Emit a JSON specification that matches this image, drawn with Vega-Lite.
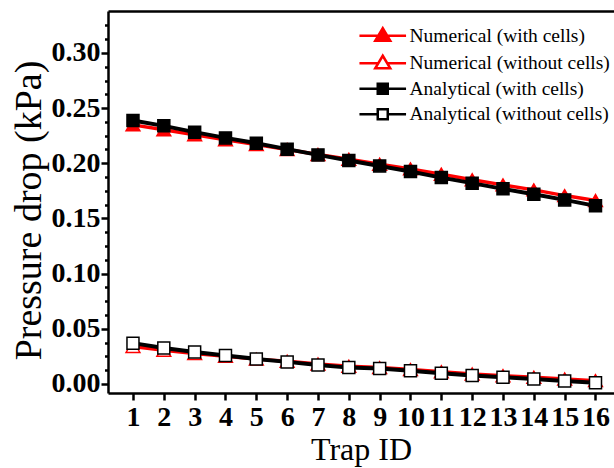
{
  "$schema": "https://vega.github.io/schema/vega-lite/v6.json",
  "autosize": {"type": "none"},
  "padding": {"left": 108, "top": 11, "right": 0, "bottom": 75},
  "width": 506,
  "height": 382,
  "background": "white",
  "config": {
    "view": {"stroke": null},
    "font": "Times New Roman, Liberation Serif, serif",
    "axis": {
      "domainColor": "black", "domainWidth": 2.5, "tickColor": "black", "tickWidth": 2.5,
      "labelColor": "black", "titleColor": "black", "grid": false,
      "labelFont": "Times New Roman, Liberation Serif, serif", "titleFont": "Times New Roman, Liberation Serif, serif"
    }
  },
  "data": {
    "values": [
      {"trap": 1, "series": "Numerical (with cells)", "dp": 0.2348},
      {"trap": 2, "series": "Numerical (with cells)", "dp": 0.2303},
      {"trap": 3, "series": "Numerical (with cells)", "dp": 0.2259},
      {"trap": 4, "series": "Numerical (with cells)", "dp": 0.2214},
      {"trap": 5, "series": "Numerical (with cells)", "dp": 0.2169},
      {"trap": 6, "series": "Numerical (with cells)", "dp": 0.2125},
      {"trap": 7, "series": "Numerical (with cells)", "dp": 0.2080},
      {"trap": 8, "series": "Numerical (with cells)", "dp": 0.2036},
      {"trap": 9, "series": "Numerical (with cells)", "dp": 0.1991},
      {"trap": 10, "series": "Numerical (with cells)", "dp": 0.1949},
      {"trap": 11, "series": "Numerical (with cells)", "dp": 0.1901},
      {"trap": 12, "series": "Numerical (with cells)", "dp": 0.1850},
      {"trap": 13, "series": "Numerical (with cells)", "dp": 0.1804},
      {"trap": 14, "series": "Numerical (with cells)", "dp": 0.1759},
      {"trap": 15, "series": "Numerical (with cells)", "dp": 0.1707},
      {"trap": 16, "series": "Numerical (with cells)", "dp": 0.1662},
      {"trap": 1, "series": "Numerical (without cells)", "dp": 0.0340},
      {"trap": 2, "series": "Numerical (without cells)", "dp": 0.0305},
      {"trap": 3, "series": "Numerical (without cells)", "dp": 0.0275},
      {"trap": 4, "series": "Numerical (without cells)", "dp": 0.0250},
      {"trap": 5, "series": "Numerical (without cells)", "dp": 0.0225},
      {"trap": 6, "series": "Numerical (without cells)", "dp": 0.0205},
      {"trap": 7, "series": "Numerical (without cells)", "dp": 0.0180},
      {"trap": 8, "series": "Numerical (without cells)", "dp": 0.0160},
      {"trap": 9, "series": "Numerical (without cells)", "dp": 0.0148},
      {"trap": 10, "series": "Numerical (without cells)", "dp": 0.0130},
      {"trap": 11, "series": "Numerical (without cells)", "dp": 0.0110},
      {"trap": 12, "series": "Numerical (without cells)", "dp": 0.0090},
      {"trap": 13, "series": "Numerical (without cells)", "dp": 0.0075},
      {"trap": 14, "series": "Numerical (without cells)", "dp": 0.0060},
      {"trap": 15, "series": "Numerical (without cells)", "dp": 0.0045},
      {"trap": 16, "series": "Numerical (without cells)", "dp": 0.0030},
      {"trap": 1, "series": "Analytical (with cells)", "dp": 0.2387},
      {"trap": 2, "series": "Analytical (with cells)", "dp": 0.2339},
      {"trap": 3, "series": "Analytical (with cells)", "dp": 0.2282},
      {"trap": 4, "series": "Analytical (with cells)", "dp": 0.2230},
      {"trap": 5, "series": "Analytical (with cells)", "dp": 0.2182},
      {"trap": 6, "series": "Analytical (with cells)", "dp": 0.2128},
      {"trap": 7, "series": "Analytical (with cells)", "dp": 0.2076},
      {"trap": 8, "series": "Analytical (with cells)", "dp": 0.2025},
      {"trap": 9, "series": "Analytical (with cells)", "dp": 0.1976},
      {"trap": 10, "series": "Analytical (with cells)", "dp": 0.1925},
      {"trap": 11, "series": "Analytical (with cells)", "dp": 0.1870},
      {"trap": 12, "series": "Analytical (with cells)", "dp": 0.1820},
      {"trap": 13, "series": "Analytical (with cells)", "dp": 0.1768},
      {"trap": 14, "series": "Analytical (with cells)", "dp": 0.1720},
      {"trap": 15, "series": "Analytical (with cells)", "dp": 0.1668},
      {"trap": 16, "series": "Analytical (with cells)", "dp": 0.1614},
      {"trap": 1, "series": "Analytical (without cells)", "dp": 0.0370},
      {"trap": 2, "series": "Analytical (without cells)", "dp": 0.0326},
      {"trap": 3, "series": "Analytical (without cells)", "dp": 0.0290},
      {"trap": 4, "series": "Analytical (without cells)", "dp": 0.0257},
      {"trap": 5, "series": "Analytical (without cells)", "dp": 0.0227},
      {"trap": 6, "series": "Analytical (without cells)", "dp": 0.0200},
      {"trap": 7, "series": "Analytical (without cells)", "dp": 0.0172},
      {"trap": 8, "series": "Analytical (without cells)", "dp": 0.0148},
      {"trap": 9, "series": "Analytical (without cells)", "dp": 0.0139},
      {"trap": 10, "series": "Analytical (without cells)", "dp": 0.0120},
      {"trap": 11, "series": "Analytical (without cells)", "dp": 0.0097},
      {"trap": 12, "series": "Analytical (without cells)", "dp": 0.0076},
      {"trap": 13, "series": "Analytical (without cells)", "dp": 0.0060},
      {"trap": 14, "series": "Analytical (without cells)", "dp": 0.0045},
      {"trap": 15, "series": "Analytical (without cells)", "dp": 0.0027},
      {"trap": 16, "series": "Analytical (without cells)", "dp": 0.0012}
    ]
  },
  "resolve": {"axis": {"x": "independent", "y": "independent"}},
  "layer": [
    {
      "transform": [{"filter": "indexof(datum.series, 'Numerical') === 0"}],
      "mark": {"type": "line", "strokeWidth": 3.5},
      "encoding": {
        "x": {
          "field": "trap", "type": "quantitative",
          "scale": {"domain": [0.19, 16.6], "nice": false, "zero": false},
          "axis": {
            "orient": "bottom", "values": [1,2,3,4,5,6,7,8,9,10,11,12,13,14,15,16], "format": "d",
            "labelFontSize": 28, "labelFontWeight": "bold", "labelOverlap": false, "labelFlush": false, "labelBound": false,
            "tickSize": 7, "labelPadding": 3,
            "title": "Trap ID", "titleFontSize": 32, "titleFontWeight": "normal", "titlePadding": 3
          }
        },
        "y": {
          "field": "dp", "type": "quantitative",
          "scale": {"domain": [-0.0082, 0.338], "nice": false, "zero": false},
          "axis": {
            "orient": "left", "values": [0, 0.05, 0.1, 0.15, 0.2, 0.25, 0.3], "format": ".2f",
            "labelFontSize": 28, "labelFontWeight": "bold", "labelFlush": false, "labelOverlap": false,
            "tickSize": 7, "labelPadding": 1,
            "title": "Pressure drop (kPa)", "titleFontSize": 38, "titleFontWeight": "normal", "titlePadding": 3,
            "titleY": 199
          }
        },
        "stroke": {
          "field": "series", "type": "nominal",
          "scale": {
            "domain": ["Numerical (with cells)", "Numerical (without cells)", "Analytical (with cells)", "Analytical (without cells)"],
            "range": ["#ff0000", "#ff0000", "#000000", "#000000"]
          },
          "legend": {
            "orient": "none", "legendX": 265, "legendY": 15, "padding": 0,
            "title": null, "labelFont": "Times New Roman, Liberation Serif, serif", "labelFontSize": 19.5, "labelColor": "black",
            "labelLimit": 0,
            "labelOffset": 17, "rowPadding": 4.5, "symbolSize": 100, "symbolStrokeWidth": 2.5,
            "symbolType": "M-4.66,0H4.66",
            "encode": {
              "symbols": {
                "update": {
                  "shape": {"signal": "indexof(datum.value, 'Numerical') === 0 ? 'M-4.66,0H-0.9M0.9,0H4.66M0,-1.5L1.5,1H-1.5Z' : 'M-4.66,0H-1M1,0H4.66M-1,-1H1V1H-1Z'"},
                  "fill": {"signal": "indexof(datum.value, 'without') >= 0 ? 'white' : (indexof(datum.value, 'Numerical') === 0 ? '#ff0000' : '#000000')"},
                  "strokeWidth": {"value": 2.5},
                  "opacity": {"value": 1},
                  "fillOpacity": {"value": 1}
                }
              }
            }
          }
        }
      }
    },
    {
      "transform": [{"filter": "indexof(datum.series, 'Numerical') === 0"}],
      "mark": {"type": "point", "shape": "triangle-up", "filled": true, "size": 190, "strokeWidth": 1.5, "opacity": 1},
      "encoding": {
        "x": {
          "field": "trap", "type": "quantitative",
          "scale": {"domain": [0.19, 16.6], "nice": false, "zero": false},
          "axis": {"orient": "top", "ticks": false, "labels": false, "title": null, "domainWidth": 2.5}
        },
        "y": {
          "field": "dp", "type": "quantitative",
          "scale": {"domain": [-0.0082, 0.338], "nice": false, "zero": false},
          "axis": {
            "orient": "left", "domain": false, "labels": false, "title": null, "tickSize": 3.5,
            "values": [0.0125, 0.025, 0.0375, 0.0625, 0.075, 0.0875, 0.1125, 0.125, 0.1375, 0.1625, 0.175, 0.1875, 0.2125, 0.225, 0.2375, 0.2625, 0.275, 0.2875, 0.3125, 0.325]
          }
        },
        "stroke": {"field": "series", "type": "nominal", "legend": null},
        "fill": {
          "field": "series", "type": "nominal", "legend": null,
          "scale": {
            "domain": ["Numerical (with cells)", "Numerical (without cells)", "Analytical (with cells)", "Analytical (without cells)"],
            "range": ["#ff0000", "#ffffff", "#000000", "#ffffff"]
          }
        }
      }
    },
    {
      "transform": [{"filter": "indexof(datum.series, 'Analytical') === 0"}],
      "mark": {"type": "line", "strokeWidth": 4},
      "encoding": {
        "x": {"field": "trap", "type": "quantitative", "axis": null},
        "y": {"field": "dp", "type": "quantitative", "axis": null},
        "stroke": {"field": "series", "type": "nominal", "legend": null}
      }
    },
    {
      "transform": [{"filter": "indexof(datum.series, 'Analytical') === 0"}],
      "mark": {"type": "point", "shape": "square", "filled": true, "size": 144, "strokeWidth": 1.5, "opacity": 1},
      "encoding": {
        "x": {"field": "trap", "type": "quantitative", "axis": null},
        "y": {"field": "dp", "type": "quantitative", "axis": null},
        "stroke": {"field": "series", "type": "nominal", "legend": null},
        "fill": {"field": "series", "type": "nominal", "legend": null}
      }
    }
  ]
}
